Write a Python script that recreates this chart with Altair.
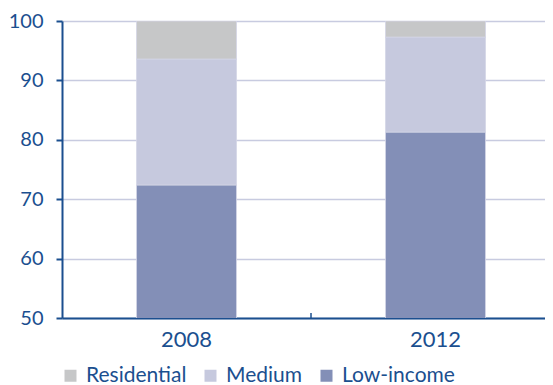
import altair as alt
import pandas as pd

years = ["2008", "2012"]
categories = ["Residential", "Medium", "Low-income"]
low_income = [72.4, 81.3]
medium = [21.2, 16.0]
residential = [6.4, 2.7]
y_ticks = [50, 60, 70, 80, 90, 100]
colors = ["#c6c7c8", "#c6c9de", "#838fb7"]

rows = []
for i, yr in enumerate(years):
    rows.append({"year": yr, "cat": "Low-income", "value": low_income[i], "ord": 0})
    rows.append({"year": yr, "cat": "Medium", "value": medium[i], "ord": 1})
    rows.append({"year": yr, "cat": "Residential", "value": residential[i], "ord": 2})
df = pd.DataFrame(rows)

TXT = "#1b4f8f"
FONT = "Lato"
W, H = 498, 297

x_axis = alt.Axis(labelAngle=0, labelFontSize=22, labelColor=TXT, labelFont=FONT,
                  labelPadding=11, ticks=False, domainColor=TXT, domainWidth=2,
                  grid=False, title=None)
x_scale = alt.Scale(paddingInner=0, paddingOuter=0)

bars = alt.Chart(df).mark_bar(size=100, clip=True, stroke="#d4d6e6", strokeWidth=0.8).encode(
    x=alt.X("year:N", scale=x_scale, axis=x_axis),
    y=alt.Y("value:Q", stack="zero",
            scale=alt.Scale(domain=[50, 100], nice=False, zero=False),
            axis=alt.Axis(values=y_ticks, tickSize=6, tickColor=TXT, tickWidth=2,
                          domainColor=TXT, domainWidth=2, labelFontSize=20,
                          labelColor=TXT, labelFont=FONT, labelPadding=13,
                          gridColor="#c8cbe0", gridWidth=1.5, title=None)),
    color=alt.Color("cat:N", scale=alt.Scale(domain=categories, range=colors),
                    legend=alt.Legend(title=None, orient="none", legendX=-2, legendY=344,
                                      direction="horizontal", symbolType="square",
                                      symbolSize=144, symbolStrokeWidth=0,
                                      labelFontSize=21, labelColor=TXT, labelFont=FONT,
                                      labelOffset=5, columnPadding=13, padding=0)),
    order=alt.Order("ord:Q", sort="ascending"),
)

sep = alt.Chart(pd.DataFrame({"year": [years[1]]})).mark_rule(color=TXT, strokeWidth=1.5).encode(
    x=alt.X("year:N", scale=x_scale, axis=x_axis, bandPosition=0),
    y=alt.value(H - 5),
    y2=alt.value(H),
)

chart = alt.layer(bars, sep).properties(
    width=W, height=H,
    autosize=alt.AutoSizeParams(type="none"),
    padding={"left": 54, "top": 13, "right": -15, "bottom": 67},
).configure_view(stroke=None)

chart.save("out.html", embed_options={"renderer": "svg", "actions": False})
